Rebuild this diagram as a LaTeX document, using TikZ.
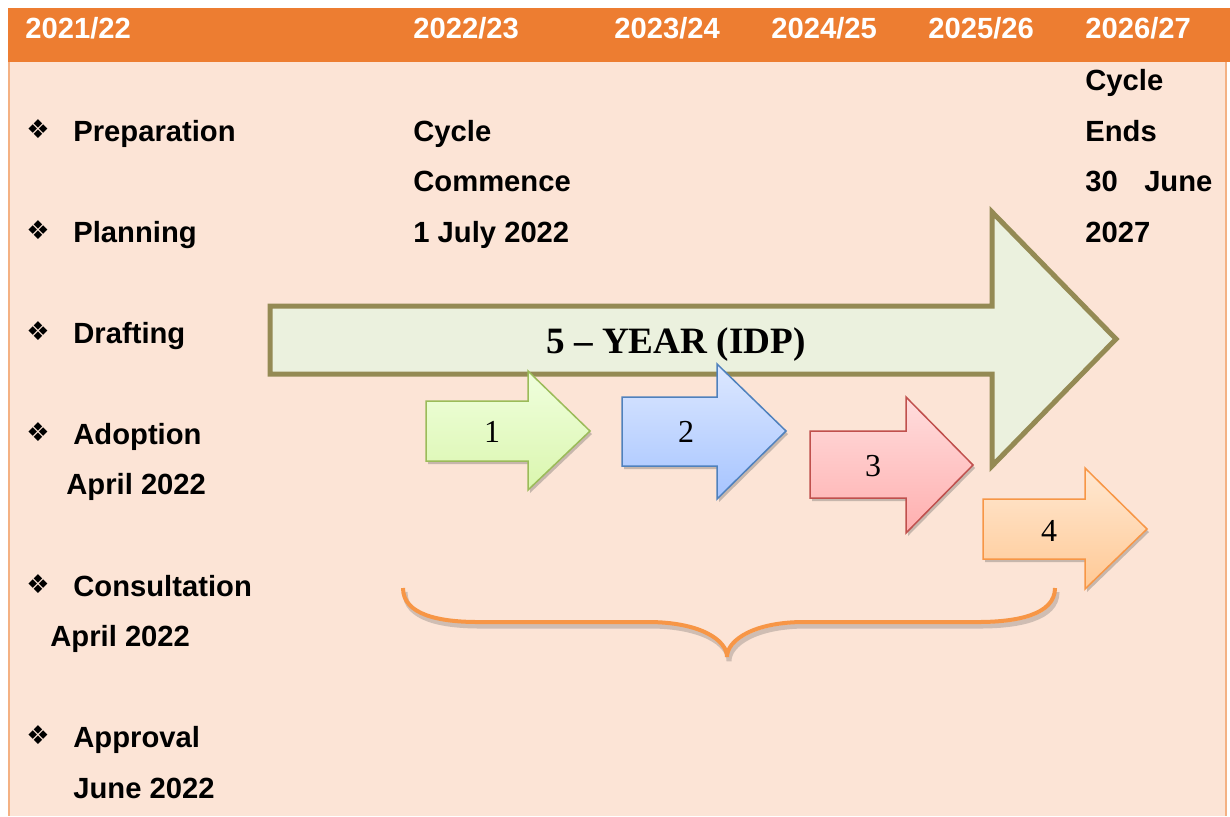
\documentclass[tikz,border=0pt]{standalone}
\usepackage{fontspec}
\setmainfont{Liberation Sans}
\newfontfamily\idpserif{Liberation Serif}
\newfontfamily\bulletfont{DejaVu Sans}
\usetikzlibrary{shadows}
\definecolor{hdrorange}{HTML}{ED7D31}
\definecolor{bodypeach}{HTML}{FCE4D6}
\definecolor{tblborder}{HTML}{F4B183}
\definecolor{idpfill}{HTML}{EBF1DE}
\definecolor{idpline}{HTML}{948A54}
\definecolor{braceorange}{HTML}{F79646}
\definecolor{ponetop}{HTML}{F0FFDE}
\definecolor{ponebot}{HTML}{DAF6AE}
\definecolor{poneline}{HTML}{9BBB59}
\definecolor{ptwotop}{HTML}{DDE8FF}
\definecolor{ptwobot}{HTML}{A6C4FF}
\definecolor{ptwoline}{HTML}{4F81BD}
\definecolor{pthreetop}{HTML}{FFDDDD}
\definecolor{pthreebot}{HTML}{FFAFAF}
\definecolor{pthreeline}{HTML}{C0504D}
\definecolor{pfourtop}{HTML}{FFE8D2}
\definecolor{pfourbot}{HTML}{FFC995}
\tikzset{
	yeartxt/.style={anchor=base west, inner sep=0pt, text=white, font=\fontsize{14.6}{17}\selectfont\bfseries},
	steptxt/.style={anchor=base west, inner sep=0pt, font=\fontsize{14.6}{17}\selectfont\bfseries},
	bul/.style={inner sep=0pt, font=\bulletfont\fontsize{13}{15}\selectfont},
	phase/.style={line width=0.75pt, line join=miter, drop shadow={shadow xshift=1pt, shadow yshift=-1.5pt, opacity=0.3, fill=black!70}},
	phasenum/.style={inner sep=0pt, font=\idpserif\fontsize{16}{18}\selectfont},
}
\begin{document}
\begin{tikzpicture}[x=0.5pt, y=-0.5pt]
		\useasboundingbox (0,0) rectangle (1230,816);
		% table background
		\fill[hdrorange] (8,8) rectangle (1230,62);
		\fill[bodypeach] (9,62) rectangle (1226,816);
		\draw[tblborder, line width=1pt] (9,62) -- (9,816);
		\draw[tblborder, line width=1pt] (1226,62) -- (1226,816);
		% years
		\node[yeartxt] (y2122) at (25,38) {2021/22};
		\node[yeartxt] (y2223) at (413,38) {2022/23};
		\node[yeartxt] (y2324) at (614,38) {2023/24};
		\node[yeartxt] (y2425) at (771,38) {2024/25};
		\node[yeartxt] (y2526) at (928,38) {2025/26};
		\node[yeartxt] (y2627) at (1085,38) {2026/27};
		% left column
		\node[bul] (bprep) at (38,129) {❖};
		\node[steptxt] (prep) at (73,141) {Preparation};
		\node[bul] (bplan) at (38,230) {❖};
		\node[steptxt] (plan) at (73,242) {Planning};
		\node[bul] (bdraft) at (38,331) {❖};
		\node[steptxt] (draft) at (73,343) {Drafting};
		\node[bul] (badopt) at (38,432) {❖};
		\node[steptxt] (adopt) at (73,444) {Adoption};
		\node[steptxt] (adoptd) at (66,494) {April 2022};
		\node[bul] (bcons) at (38,584) {❖};
		\node[steptxt] (cons) at (73,596) {Consultation};
		\node[steptxt] (consd) at (50,646) {April 2022};
		\node[bul] (bappr) at (38,735) {❖};
		\node[steptxt] (appr) at (73,747) {Approval};
		\node[steptxt] (apprd) at (73,798) {June 2022};
		% cycle start and end
		\node[steptxt] (cstart1) at (413,141) {Cycle};
		\node[steptxt] (cstart2) at (413,191) {Commence};
		\node[steptxt] (cstart3) at (413,242) {1 July 2022};
		\node[steptxt] (cend1) at (1085,90) {Cycle};
		\node[steptxt] (cend2) at (1085,141) {Ends};
		\node[steptxt] (cend3) at (1085,191) {\makebox[63.5pt][s]{30 June}};
		\node[steptxt] (cend4) at (1085,242) {2027};
		% five year arrow
		\draw[idpline, fill=idpfill, line width=2.5pt, line join=miter] (270,306) -- (992,306) -- (992,212) -- (1116,339) -- (992,466) -- (992,374) -- (270,374) -- cycle;
		\node[inner sep=0pt, anchor=base, font=\idpserif\fontsize{18.6}{21}\selectfont\bfseries] (idp) at (676,353) {5 – YEAR (IDP)};
		% phases
		\draw[phase, draw=poneline, top color=ponetop, bottom color=ponebot] (426,401) -- (528,401) -- (528,371) -- (590,431) -- (528,490) -- (528,461) -- (426,461) -- cycle;
		\node[phasenum] (p1) at (492,432) {1};
		\draw[phase, draw=ptwoline, top color=ptwotop, bottom color=ptwobot] (622,397) -- (717,397) -- (717,364) -- (786,431) -- (717,499) -- (717,466) -- (622,466) -- cycle;
		\node[phasenum] (p2) at (686,432) {2};
		\draw[phase, draw=pthreeline, top color=pthreetop, bottom color=pthreebot] (810,431) -- (906,431) -- (906,397) -- (973,465) -- (906,533) -- (906,498) -- (810,498) -- cycle;
		\node[phasenum] (p3) at (873,466) {3};
		\draw[phase, draw=braceorange, top color=pfourtop, bottom color=pfourbot] (983,499) -- (1085,499) -- (1085,468) -- (1147,529) -- (1085,589) -- (1085,559) -- (983,559) -- cycle;
		\node[phasenum] (p4) at (1049,531) {4};
		% brace and its shadow
		\draw[black!70, opacity=0.25, line width=2.5pt, shift={(2,4)}] (403,588) .. controls (403,615) and (440,622) .. (478,622) -- (648,622) .. controls (700,622) and (727,640) .. (727,657) .. controls (727,640) and (754,622) .. (804,622) -- (978,622) .. controls (1016,622) and (1055,615) .. (1055,588);
		\draw[braceorange, line width=2pt] (403,588) .. controls (403,615) and (440,622) .. (478,622) -- (648,622) .. controls (700,622) and (727,640) .. (727,657) .. controls (727,640) and (754,622) .. (804,622) -- (978,622) .. controls (1016,622) and (1055,615) .. (1055,588);
	\end{tikzpicture}
\end{document}
